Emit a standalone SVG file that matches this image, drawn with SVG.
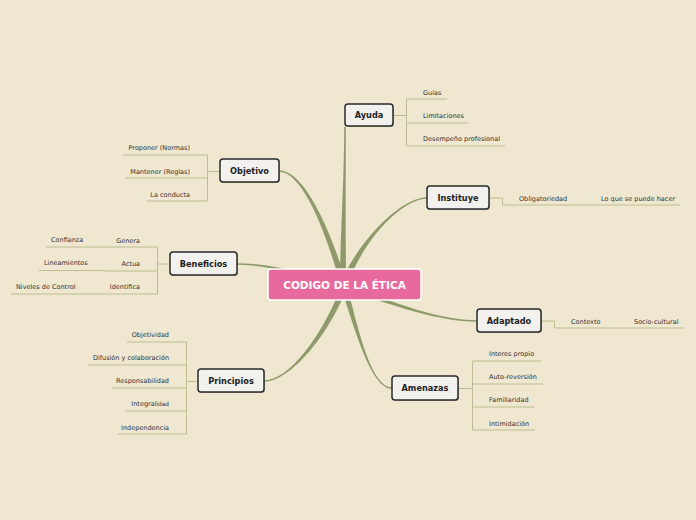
<svg xmlns="http://www.w3.org/2000/svg" width="696" height="520" viewBox="0 0 696 520">
<style>
.bg{fill:#EFE7D0}
.br{fill:#8F9A6B}
.lf{fill:none;stroke:#BCBE92;stroke-width:1}
.nb{fill:#F2F1ED;stroke:#2A2A2A;stroke-width:1.5}
.sh{fill:#000;opacity:0.22}
.nt{font-family:"DejaVu Sans",Verdana,sans-serif;font-size:8.2px;font-weight:bold;fill:#222;text-anchor:middle}
.lt{font-family:"DejaVu Sans",Verdana,sans-serif;font-size:6.5px;fill:#333}
.le{text-anchor:end}
.ct{font-family:"DejaVu Sans",Verdana,sans-serif;font-size:10.5px;font-weight:bold;fill:#fff;text-anchor:middle}
</style>
<rect class="bg" x="0" y="0" width="696" height="520"/>
<g id="connectors">
  <path class="br" d="M344.2,127 C344.2,180 340.5,230 340,275 L346,275 C345.5,230 345.8,180 345.8,127 Z"/>
  <path class="br" d="M279,170.2 C301,170.2 324,214.4 342.9,271.1 L337.1,272.9 C320.2,215.6 299,171.8 279,171.8 Z"/>
  <path class="br" d="M427,197.2 C405,197.2 368.8,229.2 346.3,270.7 L351.7,273.4 C371.2,230.8 405,198.8 427,198.8 Z"/>
  <path class="br" d="M237,263.2 C270,263.2 310.5,274.5 344.8,283.1 L343.2,288.9 C309.5,277.5 270,264.8 237,264.8 Z"/>
  <path class="br" d="M477,320.2 C440,320.2 395.5,303.8 345,283.2 L343,288.8 C394.5,306.2 440,321.8 477,321.8 Z"/>
  <path class="br" d="M264,380.2 C290,380.2 322.5,334 340.2,288.9 L345.8,291.1 C327.5,336 290,381.8 264,381.8 Z"/>
  <path class="br" d="M392,387.2 C372,387.2 359.5,334.6 347.9,289.2 L342.1,290.8 C356.5,335.4 372,388.8 392,388.8 Z"/>
  <path class="lf" d="M220,171.5 H207.5 M207.5,155 V201 M123,155 H207.5 M125,178 H207.5 M147,201 H207.5"/>
  <path class="lf" d="M170,264 H157.5 M157.5,247 V294 M100,247 H157.5 M46,247 H100 M105,271 H157.5 M39,270.5 H105 M93,294 H157.5 M11,294 H93"/>
  <path class="lf" d="M198,381.5 H186.5 M186.5,342 V434 M127,342 H186.5 M88,365 H186.5 M112,388 H186.5 M125,411 H186.5 M118,434 H186.5"/>
  <path class="lf" d="M393,115.5 H406.5 M406.5,99 V146 M406.5,99 H447 M406.5,123 H468 M406.5,146 H505"/>
  <path class="lf" d="M489,198 H502.5 V205 H680"/>
  <path class="lf" d="M541,321 H554.5 V328 H684"/>
  <path class="lf" d="M459,388.5 H472.5 M472.5,361 V430 M472.5,361 H541 M472.5,384 H543 M472.5,407 H534 M472.5,430 H535"/>
</g>
<g id="center">
  <rect x="268" y="269" width="153" height="31" rx="3" fill="#E8699B" stroke="#FFFFFF" stroke-width="1.5"/>
  <text class="ct" x="344.5" y="288.7">CODIGO DE LA ÉTICA</text>
</g>
<g id="ayuda">
  <rect class="sh" x="346" y="105" width="48" height="22" rx="3"/>
  <rect class="nb" x="345" y="104" width="48" height="22" rx="3"/>
  <text class="nt" x="369" y="118">Ayuda</text>
  <text class="lt" x="423" y="94.5">Guias</text>
  <text class="lt" x="423" y="117.5">Limitaciones</text>
  <text class="lt" x="423" y="140.5">Desempeño profesional</text>
</g>
<g id="objetivo">
  <rect class="sh" x="221" y="160" width="59" height="23" rx="3"/>
  <rect class="nb" x="220" y="159" width="59" height="23" rx="3"/>
  <text class="nt" x="249.5" y="173.8">Objetivo</text>
  <text class="lt le" x="190" y="149.5">Proponer (Normas)</text>
  <text class="lt le" x="190" y="173.5">Mantener (Reglas)</text>
  <text class="lt le" x="190" y="196.5">La conducta</text>
</g>
<g id="instituye">
  <rect class="sh" x="428" y="187" width="62" height="23" rx="3"/>
  <rect class="nb" x="427" y="186" width="62" height="23" rx="3"/>
  <text class="nt" x="458" y="200.8">Instituye</text>
  <text class="lt" x="519" y="200.5">Obligatoriedad</text>
  <text class="lt" x="601" y="200.5">Lo que se puede hacer</text>
</g>
<g id="beneficios">
  <rect class="sh" x="171" y="253" width="67" height="23" rx="3"/>
  <rect class="nb" x="170" y="252" width="67" height="23" rx="3"/>
  <text class="nt" x="203.5" y="266.8">Beneficios</text>
  <text class="lt le" x="140" y="242.5">Genera</text>
  <text class="lt" x="51" y="241.5">Confianza</text>
  <text class="lt le" x="140" y="265.5">Actua</text>
  <text class="lt" x="44" y="264.5">Lineamientos</text>
  <text class="lt le" x="140" y="288.5">Identifica</text>
  <text class="lt" x="16" y="288.5">Niveles de Control</text>
</g>
<g id="adaptado">
  <rect class="sh" x="478" y="310" width="64" height="23" rx="3"/>
  <rect class="nb" x="477" y="309" width="64" height="23" rx="3"/>
  <text class="nt" x="509" y="323.8">Adaptado</text>
  <text class="lt" x="571" y="324">Contexto</text>
  <text class="lt" x="634" y="324">Socio-cultural</text>
</g>
<g id="principios">
  <rect class="sh" x="199" y="370" width="66" height="23" rx="3"/>
  <rect class="nb" x="198" y="369" width="66" height="23" rx="3"/>
  <text class="nt" x="231" y="383.8">Principios</text>
  <text class="lt le" x="169" y="336.5">Objetividad</text>
  <text class="lt le" x="169" y="359.5">Difusión y colaboración</text>
  <text class="lt le" x="169" y="382.5">Responsabilidad</text>
  <text class="lt le" x="169" y="405.5">Integral<tspan font-size="5.8" dy="0.8">idad</tspan></text>
  <text class="lt le" x="169" y="429.5">Independencia</text>
</g>
<g id="amenazas">
  <rect class="sh" x="393" y="377" width="66" height="24" rx="3"/>
  <rect class="nb" x="392" y="376" width="66" height="24" rx="3"/>
  <text class="nt" x="425" y="390.8">Amenazas</text>
  <text class="lt" x="489" y="355.5">Interes propio</text>
  <text class="lt" x="489" y="378.5">Auto-reversión</text>
  <text class="lt" x="489" y="401.5">Familiaridad</text>
  <text class="lt" x="489" y="425.5">Intimidación</text>
</g>
</svg>
